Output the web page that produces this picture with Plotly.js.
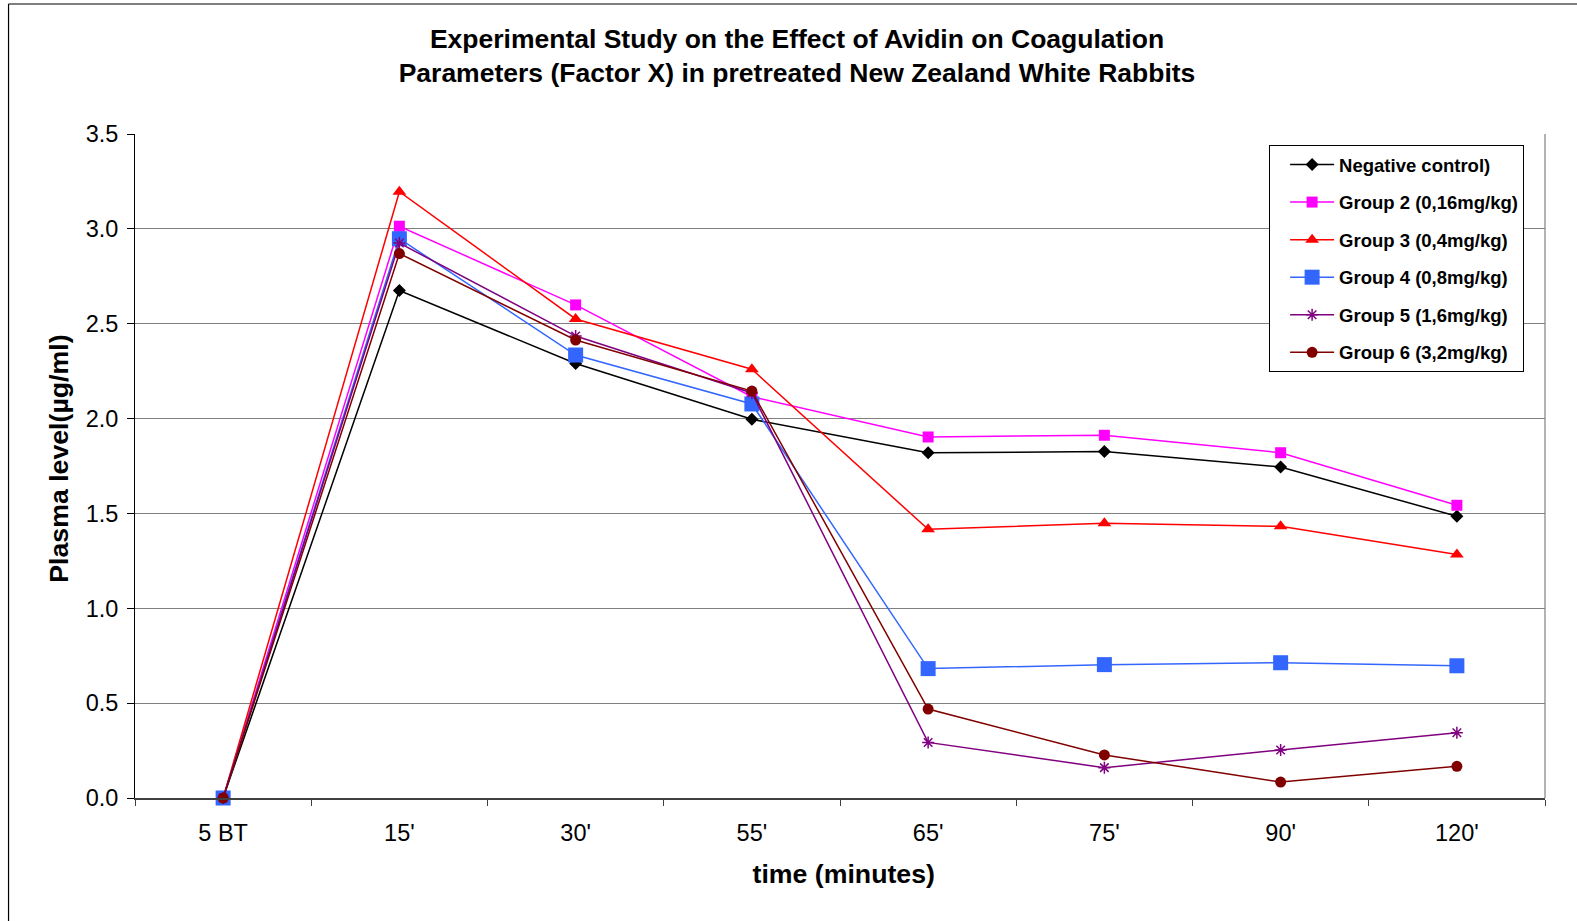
<!DOCTYPE html>
<html>
<head>
<meta charset="utf-8">
<script src="https://cdn.plot.ly/plotly-3.0.1.min.js"></script>
<style>
  html, body { margin: 0; padding: 0; background: #ffffff; }
  #chart { width: 1577px; height: 921px; }
</style>
</head>
<body>
<div id="chart"></div>
<script>
const categories = ["5 BT", "15'", "30'", "55'", "65'", "75'", "90'", "120'"];

const negativeControl = [0, 2.675, 2.290, 1.996, 1.820, 1.826, 1.745, 1.485];
const group2 = [0, 3.014, 2.599, 2.115, 1.903, 1.912, 1.820, 1.543];
const group3 = [0, 3.196, 2.525, 2.260, 1.416, 1.448, 1.432, 1.283];
const group4 = [0, 2.948, 2.335, 2.077, 0.682, 0.703, 0.713, 0.697];
const group5 = [0, 2.925, 2.435, 2.135, 0.293, 0.160, 0.253, 0.344];
const group6 = [0, 2.870, 2.414, 2.145, 0.469, 0.227, 0.084, 0.167];

const seriesNames = [
  "Negative control)",
  "Group 2 (0,16mg/kg)",
  "Group 3 (0,4mg/kg)",
  "Group 4 (0,8mg/kg)",
  "Group 5 (1,6mg/kg)",
  "Group 6 (3,2mg/kg)"
];

const styles = [
  { color: "#000000", symbol: "diamond", size: 10 },
  { color: "#FF00FF", symbol: "square", size: 11 },
  { color: "#FF0000", symbol: "triangle-up", size: 12 },
  { color: "#3366FF", symbol: "square", size: 15 },
  { color: "#800080", symbol: "asterisk-open", size: 10 },
  { color: "#800000", symbol: "circle", size: 11 }
];

const allSeries = [negativeControl, group2, group3, group4, group5, group6];

const traces = allSeries.map((vals, i) => ({
  type: "scatter",
  mode: "lines+markers",
  x: categories,
  y: vals,
  name: seriesNames[i],
  legendgroup: "g" + i,
  line: { color: styles[i].color, width: 1.5 },
  marker: {
    color: styles[i].color,
    symbol: styles[i].symbol,
    size: styles[i].size,
    line: { color: styles[i].color, width: styles[i].symbol === "asterisk-open" ? 1.5 : 0 }
  },
  cliponaxis: false
}));

const font = "Liberation Sans, Arial, sans-serif";

const layout = {
  width: 1577,
  height: 921,
  paper_bgcolor: "#ffffff",
  plot_bgcolor: "#ffffff",
  font: { family: font, color: "#000000" },
  margin: { l: 134.5, r: 32, t: 134, b: 123, pad: 0 },
  showlegend: true,
  title: {
    text: "<b>Experimental Study on the Effect of Avidin on Coagulation<br>Parameters (Factor X) in pretreated New Zealand White Rabbits</b>",
    font: { family: font, size: 26.5, color: "#000000" },
    x: 797 / 1577,
    xanchor: "center",
    xref: "container",
    y: 1 - 48 / 921,
    yanchor: "top",
    yref: "container"
  },
  xaxis: {
    type: "category",
    range: [-0.5, 7.5],
    showgrid: false,
    showline: true,
    linecolor: "#404040",
    linewidth: 1.5,
    ticks: "outside",
    tickson: "boundaries",
    ticklen: 6,
    tickcolor: "#404040",
    tickwidth: 1,
    ticklabelstandoff: 13,
    tickfont: { family: font, size: 23.5, color: "#000000" },
    mirror: false,
    zeroline: false,
    title: {
      text: "<b>\u00a0time (minutes)</b>",
      font: { family: font, size: 26.7, color: "#000000" },
      standoff: 19
    },
    automargin: false
  },
  yaxis: {
    range: [0, 3.5],
    dtick: 0.5,
    tick0: 0,
    tickformat: ".1f",
    showgrid: true,
    gridcolor: "#808080",
    gridwidth: 1.2,
    showline: true,
    linecolor: "#000000",
    linewidth: 1,
    ticks: "outside",
    ticklen: 7,
    tickcolor: "#000000",
    ticklabelstandoff: 4,
    tickfont: { family: font, size: 23.5, color: "#000000" },
    zeroline: false,
    title: {
      text: "<b>\u00a0\u00a0Plasma level(µg/ml)</b>",
      font: { family: font, size: 26.7, color: "#000000" },
      standoff: 9
    },
    automargin: false
  },
  legend: {
    x: (1269 - 134.5) / 1410.5,
    y: (798 - 145) / 664,
    xanchor: "left",
    yanchor: "top",
    bgcolor: "#ffffff",
    bordercolor: "#000000",
    borderwidth: 1,
    traceorder: "grouped",
    tracegroupgap: 10.5,
    font: { family: font, size: 18.5, color: "#000000", weight: "bold" },
    itemwidth: 44,
    indentation: 15
  },
  shapes: [
    { type: "line", xref: "paper", yref: "paper", x0: 1, x1: 1, y0: 0, y1: 1,
      line: { color: "#808080", width: 1.2 } },
    { type: "line", xref: "paper", yref: "paper",
      x0: (8 - 134.5) / 1410.5, x1: (8 - 134.5) / 1410.5,
      y0: (798 - 4) / 664, y1: (798 - 925) / 664,
      line: { color: "#000000", width: 1.2 } },
    { type: "line", xref: "paper", yref: "paper",
      x0: (8 - 134.5) / 1410.5, x1: (1580 - 134.5) / 1410.5,
      y0: (798 - 4) / 664, y1: (798 - 4) / 664,
      line: { color: "#000000", width: 1.2 } }
  ]
};

Plotly.newPlot("chart", traces, layout, { displayModeBar: false, staticPlot: true });
</script>
</body>
</html>
